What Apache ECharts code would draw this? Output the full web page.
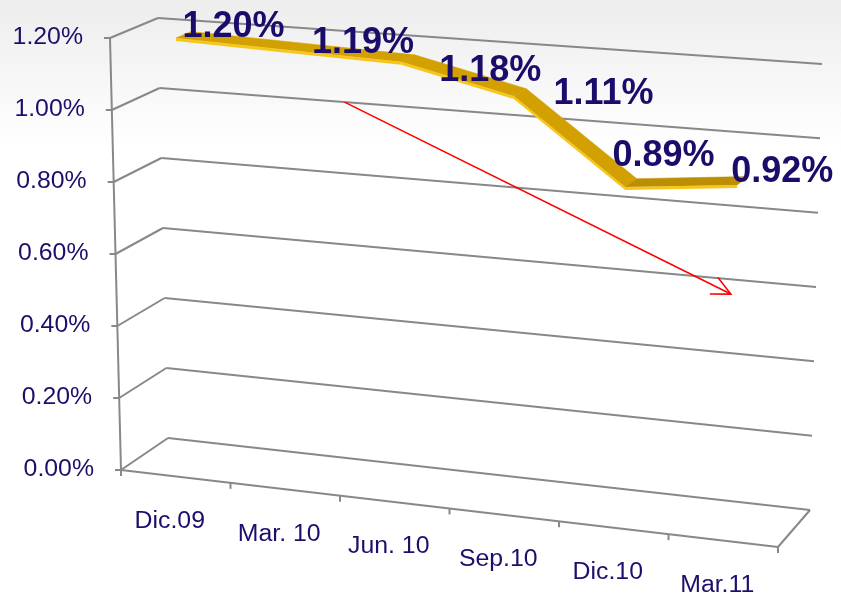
<!DOCTYPE html>
<html>
<head>
<meta charset="utf-8">
<title>Morosidad</title>
<script src="https://cdn.jsdelivr.net/npm/echarts@6/dist/echarts.min.js"></script>
<style>
  html, body { margin: 0; padding: 0; background: #fff; }
  #chart-container { width: 841px; height: 596px; }
</style>
</head>
<body>
<div id="chart-container"></div>
<script>
// ---------- data ----------
var categories = ['Dic.09', 'Mar. 10', 'Jun. 10', 'Sep.10', 'Dic.10', 'Mar.11'];
var values = [1.20, 1.19, 1.18, 1.11, 0.89, 0.92];
var valueLabels = ['1.20%', '1.19%', '1.18%', '1.11%', '0.89%', '0.92%'];
var yTicks = [0, 0.2, 0.4, 0.6, 0.8, 1.0, 1.2];
var yTickLabels = ['0.00%', '0.20%', '0.40%', '0.60%', '0.80%', '1.00%', '1.20%'];
// trend arrow, [category index, value]
var arrowFrom = [1.18, 1.00];
var arrowTo = [4.72, 0.56];

// ---------- 3D box layout ----------
// where the plot box lands on screen (front face and back wall)
var box = {
  front: { bl: [121, 470], br: [778, 547], tl: [110, 38], tr: [789, 88] },
  back:  { bl: [168, 438], br: [810, 510], tl: [158, 18], tr: [822, 64] }
};
// label nudges, Excel puts them a bit all over the place
var labelShift = [[52, -9], [69, -4], [84, 12], [85, 1], [34, -28], [41, -10]];

var navy = '#1b0f6b';
var gridColor = '#888888';
var ribbonFront = 0.2, ribbonBack = 0.52;

function lerp(a, b, k) {
  return [a[0] + (b[0] - a[0]) * k, a[1] + (b[1] - a[1]) * k];
}
function face(f, u, t) {
  return lerp(lerp(f.bl, f.br, u), lerp(f.tl, f.tr, u), t);
}
function project(u, t, d) {
  return lerp(face(box.front, u, t), face(box.back, u, t), d);
}

// category index + value -> hidden grid -> fractions -> 3D box point
function pt(params, api, idx, v, d) {
  var cs = params.coordSys;
  var x0 = api.coord([0, 0])[0];
  var step = api.coord([1, 0])[0] - x0;
  var u = (x0 + idx * step - cs.x) / cs.width;
  var t = (cs.y + cs.height - api.coord([0, v])[1]) / cs.height;
  return project(u, t, d);
}

function seg(a, b, color, width) {
  return {
    type: 'line',
    shape: { x1: a[0], y1: a[1], x2: b[0], y2: b[1] },
    style: { stroke: color, lineWidth: width || 2 }
  };
}

function txt(x, y, text, opt) {
  return {
    type: 'text',
    x: x, y: y,
    scaleX: opt.scaleX || 1,
    style: {
      text: text,
      fill: opt.color || navy,
      fontSize: opt.size,
      fontWeight: opt.weight || 'normal',
      fontFamily: '"Liberation Sans", Arial, sans-serif',
      align: opt.align || 'center',
      verticalAlign: 'middle'
    }
  };
}

// ---------- frame: walls, floor, axes, labels ----------
function renderFrame(params, api) {
  var kids = [];
  var left = -0.5, right = categories.length - 0.5;
  var top = yTicks[yTicks.length - 1];

  yTicks.forEach(function (v, i) {
    var f = pt(params, api, left, v, 0);
    var bl = pt(params, api, left, v, 1);
    var br = pt(params, api, right, v, 1);
    kids.push(seg(f, bl, gridColor));
    kids.push(seg(bl, br, gridColor));
    kids.push(seg([f[0] - 6, f[1]], f, gridColor));
    kids.push(txt(f[0] - 27, f[1], yTickLabels[i], { size: 23, align: 'right', scaleX: 1.08 }));
  });

  // vertical axis at the front
  kids.push(seg(pt(params, api, left, 0, 0), pt(params, api, left, top, 0), gridColor));
  // floor front and right edge
  var fl = pt(params, api, left, 0, 0), fr = pt(params, api, right, 0, 0);
  kids.push(seg(fl, fr, gridColor));
  kids.push(seg(fr, pt(params, api, right, 0, 1), gridColor));

  // category ticks and names
  for (var i = 0; i <= categories.length; i++) {
    var p = pt(params, api, i - 0.5, 0, 0);
    kids.push(seg(p, [p[0], p[1] + 6], gridColor));
  }
  categories.forEach(function (c, i) {
    var p = pt(params, api, i, 0, 0);
    kids.push(txt(p[0] - 6, p[1] + 45, c, { size: 23, scaleX: 1.08 }));
  });

  // trend arrow on the back wall
  var a = pt(params, api, arrowFrom[0], arrowFrom[1], 1);
  var b = pt(params, api, arrowTo[0], arrowTo[1], 1);
  var ang = Math.atan2(a[1] - b[1], a[0] - b[0]);
  var head = 21, spread = 26 * Math.PI / 180;
  kids.push(seg(a, b, '#ff0000', 1.6));
  kids.push({
    type: 'polyline',
    shape: { points: [
      [b[0] + head * Math.cos(ang + spread), b[1] + head * Math.sin(ang + spread)],
      b,
      [b[0] + head * Math.cos(ang - spread), b[1] + head * Math.sin(ang - spread)]
    ] },
    style: { stroke: '#ff0000', lineWidth: 1.6, fill: null }
  });

  return { type: 'group', children: kids };
}

// ---------- gold ribbon ----------
function renderRibbon(params, api) {
  var i = api.value(0);
  if (i >= values.length - 1) return null;
  var v0 = api.value(1), v1 = values[i + 1];
  var a0 = pt(params, api, i, v0, ribbonFront);
  var a1 = pt(params, api, i + 1, v1, ribbonFront);
  var b1 = pt(params, api, i + 1, v1, ribbonBack);
  var b0 = pt(params, api, i, v0, ribbonBack);
  var th = 3;
  return {
    type: 'group',
    children: [
      {
        type: 'polygon',
        shape: { points: [a0, a1, b1, b0] },
        style: { fill: v1 > v0 ? '#bb8e04' : '#d2a000', stroke: v1 > v0 ? '#bb8e04' : '#d2a000', lineWidth: 0.5 }
      },
      {
        type: 'polygon',
        shape: { points: [a0, a1, [a1[0], a1[1] + th], [a0[0], a0[1] + th]] },
        style: { fill: '#f6c61a' }
      }
    ]
  };
}

function renderValueLabel(params, api) {
  var i = api.value(0);
  var p = pt(params, api, i, api.value(1), 0.32);
  var s = labelShift[i];
  return txt(p[0] + s[0], p[1] + s[1], valueLabels[i], { size: 36, weight: 'bold', color: '#1a0c6b' });
}

var seriesData = values.map(function (v, i) { return [i, v]; });

var dom = document.getElementById('chart-container');
var myChart = echarts.init(dom, null, { renderer: 'canvas' });

var option = {
  animation: false,
  graphic: [{
    type: 'rect',
    z: -10,
    shape: { x: 0, y: 0, width: 841, height: 596 },
    style: {
      fill: new echarts.graphic.LinearGradient(0, 0, 0, 1, [
        { offset: 0, color: '#ededed' },
        { offset: 0.25, color: '#ffffff' },
        { offset: 1, color: '#ffffff' }
      ])
    }
  }],
  grid: { left: 0, right: 0, top: 0, bottom: 0 },
  xAxis: { type: 'category', data: categories, show: false },
  yAxis: { type: 'value', min: 0, max: 1.2, show: false },
  series: [
    { type: 'custom', z: 1, data: [[0, 0]], renderItem: renderFrame, silent: true },
    { type: 'custom', z: 2, data: seriesData, renderItem: renderRibbon, silent: true },
    { type: 'custom', z: 3, data: seriesData, renderItem: renderValueLabel, silent: true }
  ]
};

myChart.setOption(option);
window.addEventListener('resize', myChart.resize);
</script>
</body>
</html>
